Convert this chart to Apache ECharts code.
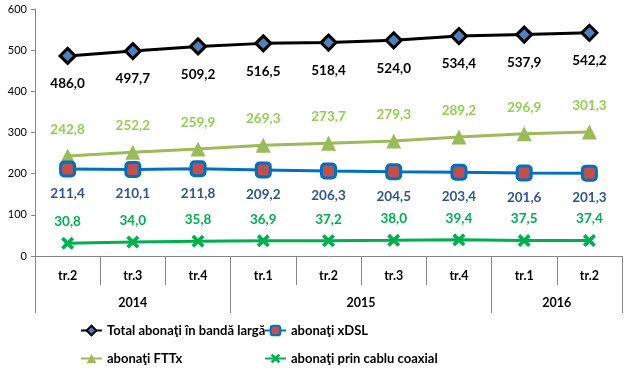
<!DOCTYPE html>
<html><head><meta charset="utf-8">
<script src="https://cdn.jsdelivr.net/npm/echarts@6/dist/echarts.min.js"></script>
<style>html,body{margin:0;padding:0;background:#fff}#c{width:624px;height:378px}</style>
</head><body><div id="c"></div>
<script>
const categories = ['tr.2','tr.3','tr.4','tr.1','tr.2','tr.3','tr.4','tr.1','tr.2'];
const years = ['2014','2015','2016'];
const yearCenters = [1.5, 5, 8];
const yearBounds = [0, 3, 7, 9];
const totalVals = [486.0, 497.7, 509.2, 516.5, 518.4, 524.0, 534.4, 537.9, 542.2];
const xdslVals = [211.4, 210.1, 211.8, 209.2, 206.3, 204.5, 203.4, 201.6, 201.3];
const fttxVals = [242.8, 252.2, 259.9, 269.3, 273.7, 279.3, 289.2, 296.9, 301.3];
const coaxVals = [30.8, 34.0, 35.8, 36.9, 37.2, 38.0, 39.4, 37.5, 37.4];
const seriesNames = ['Total abonaţi în bandă largă', 'abonaţi xDSL', 'abonaţi FTTx', 'abonaţi prin cablu coaxial'];

const FONT = 'Lato';
const fmt = v => v.toFixed(1).replace('.', ',');
const axisColor = '#868686';
const xPath = 'path://M0,2 L2,0 L5,3 L8,0 L10,2 L7,5 L10,8 L8,10 L5,7 L2,10 L0,8 L3,5 Z';

const chart = echarts.init(document.getElementById('c'));
function lbl(pos, color, dist) {
  return {show: true, position: pos, distance: dist, color: color, fontFamily: FONT, fontWeight: 'bold', fontSize: 13.5,
    formatter: p => fmt(p.value)};
}
const legendBase = {padding: 0, itemWidth: 21, itemHeight: 12, textStyle: {fontFamily: FONT, fontWeight: 'bold', fontSize: 13, color: '#000'}, itemGap: 2};
chart.setOption({
  animation: false,
  grid: {left: 35, right: 2, top: 9, bottom: 122},
  legend: [
    Object.assign({data: [seriesNames[0]], left: 80, top: 324}, legendBase),
    Object.assign({data: [seriesNames[1]], left: 264, top: 324}, legendBase),
    Object.assign({data: [seriesNames[2]], left: 80, top: 352}, legendBase),
    Object.assign({data: [seriesNames[3]], left: 264, top: 352}, legendBase)
  ],
  xAxis: [{
    type: 'category', data: categories, boundaryGap: true, position: 'bottom',
    axisLine: {show: true, lineStyle: {color: axisColor, width: 1}},
    axisTick: {show: true, length: 29, interval: 0, lineStyle: {color: axisColor}},
    axisLabel: {margin: 13, color: '#000', fontFamily: FONT, fontWeight: 'bold', fontSize: 12.5, interval: 0},
    splitLine: {show: false}
  }, {
    type: 'value', min: 0, max: 9, position: 'bottom',
    axisLine: {show: false},
    axisTick: {show: true, length: 57, customValues: yearBounds, lineStyle: {color: axisColor}},
    axisLabel: {margin: 40, customValues: yearCenters, color: '#000', fontFamily: FONT, fontWeight: 'bold', fontSize: 12.5,
      formatter: v => years[yearCenters.indexOf(v)]},
    splitLine: {show: false}
  }],
  yAxis: {
    type: 'value', min: 0, max: 600, interval: 100,
    axisLine: {show: true, lineStyle: {color: axisColor}},
    axisTick: {show: true, length: 4, lineStyle: {color: axisColor}},
    axisLabel: {color: '#000', fontFamily: FONT, fontSize: 11, margin: 8},
    splitLine: {show: false}
  },
  series: [{
    name: seriesNames[0], type: 'line', data: totalVals, xAxisIndex: 0, z: 5,
    lineStyle: {color: '#000', width: 3}, itemStyle: {color: '#4f81bd', borderColor: '#000', borderWidth: 3},
    symbol: 'diamond', symbolSize: 15, label: lbl('bottom', '#000', 12)
  }, {
    name: seriesNames[1], type: 'line', data: xdslVals, xAxisIndex: 0, z: 4,
    lineStyle: {color: '#0070c0', width: 3}, itemStyle: {color: '#c0504d', borderColor: '#0070c0', borderWidth: 3},
    symbol: 'roundRect', symbolSize: 14, label: lbl('bottom', '#2f5597', 9)
  }, {
    name: seriesNames[2], type: 'line', data: fttxVals, xAxisIndex: 0, z: 3,
    lineStyle: {color: '#9bbb59', width: 3}, itemStyle: {color: '#9bbb59'},
    symbol: 'triangle', symbolSize: 15, label: lbl('top', '#92d050', 12)
  }, {
    name: seriesNames[3], type: 'line', data: coaxVals, xAxisIndex: 0, z: 3,
    lineStyle: {color: '#00b050', width: 3}, itemStyle: {color: '#00b050'},
    symbol: xPath, symbolSize: 13, label: lbl('top', '#00b050', 8)
  }]
});
</script></body></html>
